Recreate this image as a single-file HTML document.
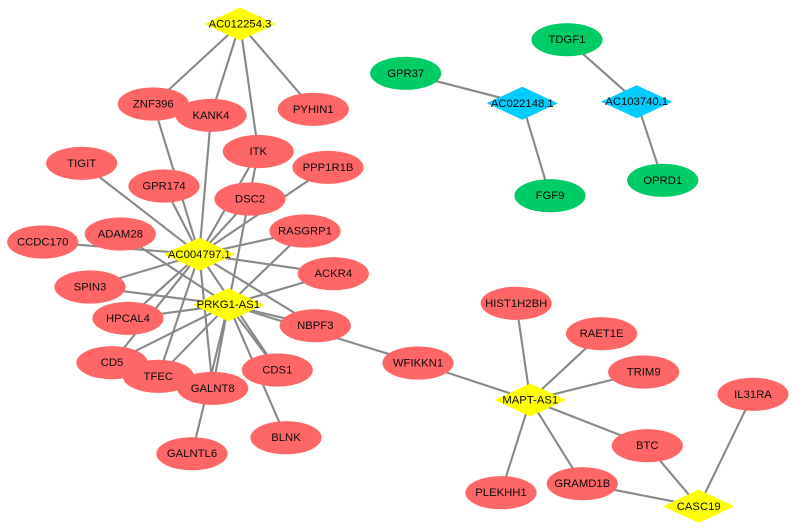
<!DOCTYPE html>
<html><head><meta charset="utf-8"><style>html,body{margin:0;padding:0;background:#fff}svg{display:block}
text{font-family:"Liberation Sans",Arial,sans-serif;font-size:11.3px;fill:#0a0a0a;text-anchor:middle;dominant-baseline:central}
line{stroke:#888;stroke-width:2.1}</style></head><body>
<svg width="797" height="531" viewBox="0 0 797 531" xmlns="http://www.w3.org/2000/svg">
<g>
<line x1="240" y1="24" x2="153.3" y2="104"/><line x1="240" y1="24" x2="211" y2="115.3"/><line x1="240" y1="24" x2="258.3" y2="151.5"/><line x1="240" y1="24" x2="313.3" y2="109.3"/>
<line x1="199.3" y1="254.3" x2="153.3" y2="104"/><line x1="199.3" y1="254.3" x2="211" y2="115.3"/><line x1="199.3" y1="254.3" x2="258.3" y2="151.5"/><line x1="199.3" y1="254.3" x2="81.7" y2="163.3"/><line x1="199.3" y1="254.3" x2="164" y2="186"/><line x1="199.3" y1="254.3" x2="328" y2="167.3"/><line x1="199.3" y1="254.3" x2="250" y2="199"/><line x1="199.3" y1="254.3" x2="305" y2="231"/><line x1="199.3" y1="254.3" x2="333.3" y2="273.7"/><line x1="199.3" y1="254.3" x2="42.7" y2="242"/><line x1="199.3" y1="254.3" x2="90" y2="287"/><line x1="199.3" y1="254.3" x2="128" y2="318.3"/><line x1="199.3" y1="254.3" x2="112" y2="362.7"/><line x1="199.3" y1="254.3" x2="158.3" y2="376.3"/><line x1="199.3" y1="254.3" x2="212.7" y2="388.3"/><line x1="199.3" y1="254.3" x2="277.3" y2="370"/><line x1="199.3" y1="254.3" x2="315.3" y2="325.7"/>
<line x1="228.3" y1="304.7" x2="258.3" y2="151.5"/><line x1="228.3" y1="304.7" x2="120.3" y2="234"/><line x1="228.3" y1="304.7" x2="305" y2="231"/><line x1="228.3" y1="304.7" x2="333.3" y2="273.7"/><line x1="228.3" y1="304.7" x2="90" y2="287"/><line x1="228.3" y1="304.7" x2="128" y2="318.3"/><line x1="228.3" y1="304.7" x2="112" y2="362.7"/><line x1="228.3" y1="304.7" x2="158.3" y2="376.3"/><line x1="228.3" y1="304.7" x2="212.7" y2="388.3"/><line x1="228.3" y1="304.7" x2="192" y2="453.7"/><line x1="228.3" y1="304.7" x2="277.3" y2="370"/><line x1="228.3" y1="304.7" x2="286" y2="437.7"/><line x1="228.3" y1="304.7" x2="315.3" y2="325.7"/><line x1="228.3" y1="304.7" x2="418" y2="363"/>
<line x1="418" y1="363" x2="530.3" y2="400"/><line x1="530.3" y1="400" x2="516.2" y2="303.3"/><line x1="530.3" y1="400" x2="601.6" y2="333.7"/><line x1="530.3" y1="400" x2="643.7" y2="372"/><line x1="530.3" y1="400" x2="647.3" y2="445.7"/><line x1="530.3" y1="400" x2="582.3" y2="483.7"/><line x1="530.3" y1="400" x2="501" y2="492.7"/>
<line x1="698.7" y1="506.3" x2="753" y2="394.3"/><line x1="698.7" y1="506.3" x2="647.3" y2="445.7"/><line x1="698.7" y1="506.3" x2="582.3" y2="483.7"/>
<line x1="405.7" y1="73.3" x2="522.3" y2="103.3"/><line x1="522.3" y1="103.3" x2="550" y2="195.7"/><line x1="567" y1="39.7" x2="636.7" y2="101.7"/><line x1="636.7" y1="101.7" x2="662.7" y2="180.3"/>
</g>
<g fill="#ff6666">
<ellipse cx="153.3" cy="104" rx="35.6" ry="16.6"/><ellipse cx="211" cy="115.3" rx="35.6" ry="16.6"/><ellipse cx="313.3" cy="109.3" rx="35.6" ry="16.6"/><ellipse cx="258.3" cy="151.5" rx="35.6" ry="16.6"/><ellipse cx="81.7" cy="163.3" rx="35.6" ry="16.6"/><ellipse cx="164" cy="186" rx="35.6" ry="16.6"/><ellipse cx="328" cy="167.3" rx="35.6" ry="16.6"/><ellipse cx="250" cy="199" rx="35.6" ry="16.6"/><ellipse cx="305" cy="231" rx="35.6" ry="16.6"/><ellipse cx="120.3" cy="234" rx="35.6" ry="16.6"/><ellipse cx="42.7" cy="242" rx="35.6" ry="16.6"/><ellipse cx="333.3" cy="273.7" rx="35.6" ry="16.6"/><ellipse cx="90" cy="287" rx="35.6" ry="16.6"/><ellipse cx="128" cy="318.3" rx="35.6" ry="16.6"/><ellipse cx="315.3" cy="325.7" rx="35.6" ry="16.6"/><ellipse cx="112" cy="362.7" rx="35.6" ry="16.6"/><ellipse cx="158.3" cy="376.3" rx="35.6" ry="16.6"/><ellipse cx="212.7" cy="388.3" rx="35.6" ry="16.6"/><ellipse cx="277.3" cy="370" rx="35.6" ry="16.6"/><ellipse cx="286" cy="437.7" rx="35.6" ry="16.6"/><ellipse cx="192" cy="453.7" rx="35.6" ry="16.6"/><ellipse cx="418" cy="363" rx="35.6" ry="16.6"/><ellipse cx="516.2" cy="303.3" rx="35.6" ry="16.6"/><ellipse cx="601.6" cy="333.7" rx="35.6" ry="16.6"/><ellipse cx="643.7" cy="372" rx="35.6" ry="16.6"/><ellipse cx="753" cy="394.3" rx="35.6" ry="16.6"/><ellipse cx="647.3" cy="445.7" rx="35.6" ry="16.6"/><ellipse cx="582.3" cy="483.7" rx="35.6" ry="16.6"/><ellipse cx="501" cy="492.7" rx="35.6" ry="16.6"/>
</g>
<g fill="#00cc66">
<ellipse cx="405.7" cy="73.3" rx="35.6" ry="16.6"/><ellipse cx="567" cy="39.7" rx="35.6" ry="16.6"/><ellipse cx="550" cy="195.7" rx="35.6" ry="16.6"/><ellipse cx="662.7" cy="180.3" rx="35.6" ry="16.6"/>
</g>
<g fill="#ffff00">
<polygon points="240,7.5 275.6,24 240,40.5 204.4,24"/><polygon points="199.3,237.8 234.9,254.3 199.3,270.8 163.7,254.3"/><polygon points="228.3,288.2 263.9,304.7 228.3,321.2 192.7,304.7"/><polygon points="530.3,383.5 565.9,400 530.3,416.5 494.7,400"/><polygon points="698.7,489.8 734.3,506.3 698.7,522.8 663.1,506.3"/>
</g>
<g fill="#00ccff">
<polygon points="522.3,86.8 557.9,103.3 522.3,119.8 486.7,103.3"/><polygon points="636.7,85.2 672.3,101.7 636.7,118.2 601.1,101.7"/>
</g>
<g>
<text x="240" y="24.5">AC012254.3</text><text x="153.3" y="104.5">ZNF396</text><text x="211" y="115.8">KANK4</text><text x="313.3" y="109.8">PYHIN1</text><text x="258.3" y="152">ITK</text><text x="81.7" y="163.8">TIGIT</text><text x="164" y="186.5">GPR174</text><text x="328" y="167.8">PPP1R1B</text><text x="250" y="199.5">DSC2</text><text x="305" y="231.5">RASGRP1</text><text x="120.3" y="234.5">ADAM28</text><text x="42.7" y="242.5">CCDC170</text><text x="199.3" y="254.8">AC004797.1</text><text x="333.3" y="274.2">ACKR4</text><text x="90" y="287.5">SPIN3</text><text x="228.3" y="305.2">PRKG1-AS1</text><text x="128" y="318.8">HPCAL4</text><text x="315.3" y="326.2">NBPF3</text><text x="112" y="363.2">CD5</text><text x="158.3" y="376.8">TFEC</text><text x="212.7" y="388.8">GALNT8</text><text x="277.3" y="370.5">CDS1</text><text x="286" y="438.2">BLNK</text><text x="192" y="454.2">GALNTL6</text><text x="418" y="363.5">WFIKKN1</text><text x="530.3" y="400.5">MAPT-AS1</text><text x="516.2" y="303.8">HIST1H2BH</text><text x="601.6" y="334.2">RAET1E</text><text x="643.7" y="372.5">TRIM9</text><text x="753" y="394.8">IL31RA</text><text x="647.3" y="446.2">BTC</text><text x="582.3" y="484.2">GRAMD1B</text><text x="501" y="493.2">PLEKHH1</text><text x="698.7" y="506.8">CASC19</text><text x="405.7" y="73.8">GPR37</text><text x="567" y="40.2">TDGF1</text><text x="522.3" y="103.8">AC022148.1</text><text x="636.7" y="102.2">AC103740.1</text><text x="550" y="196.2">FGF9</text><text x="662.7" y="180.8">OPRD1</text>
</g>
</svg>
</body></html>
